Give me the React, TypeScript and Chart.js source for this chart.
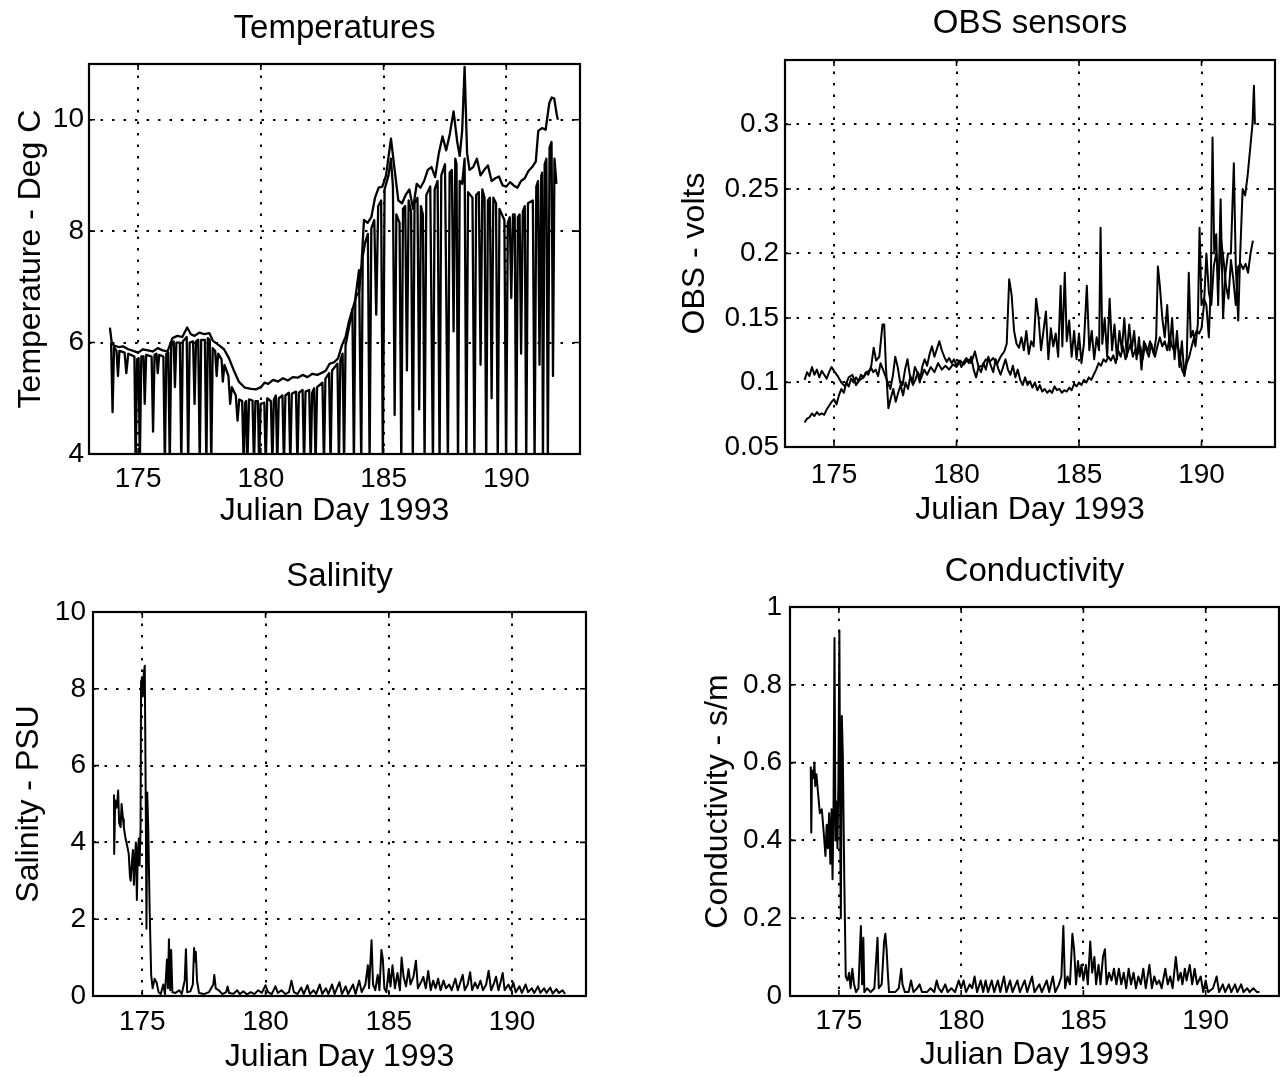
import React, { useEffect, useRef } from 'react';
import { Chart, registerables } from 'chart.js';
Chart.register(...registerables);

const FONT = '"Liberation Sans", Arial, Helvetica, sans-serif';

// ---------- shared axis data ----------
const xTicks = [175, 180, 185, 190];
const xTickLabels = ['175', '180', '185', '190'];
const xLabel = 'Julian Day 1993';

// ---------- Temperatures ----------
const tempYTicks = [4, 6, 8, 10];
const tempYLabels = ['4', '6', '8', '10'];
const tempUpperDays = [173.85,173.92,174.0,174.2,174.4,174.6,174.8,175.0,175.2,175.4,175.6,175.8,176.0,176.2,176.4,176.6,176.8,177.0,177.15,177.3,177.5,177.7,177.9,178.05,178.3,178.5,178.7,178.9,179.1,179.35,179.6,179.8,180.0,180.15,180.3,180.5,180.7,180.9,181.1,181.3,181.5,181.7,181.9,182.1,182.3,182.5,182.65,182.8,183.0,183.15,183.3,183.45,183.6,183.75,183.9,184.0,184.1,184.2,184.35,184.5,184.65,184.8,184.95,185.1,185.3,185.45,185.6,185.75,185.9,186.05,186.2,186.35,186.5,186.65,186.8,186.95,187.1,187.25,187.4,187.55,187.7,187.85,188.0,188.1,188.2,188.3,188.4,188.5,188.65,188.8,188.95,189.1,189.25,189.4,189.55,189.7,189.85,190.0,190.15,190.3,190.45,190.6,190.75,190.9,191.05,191.2,191.3,191.45,191.6,191.75,191.85,191.95,192.05,192.1];
const tempUpperVals = [6.27,6.02,5.95,5.92,5.93,5.88,5.85,5.82,5.88,5.86,5.84,5.9,5.86,5.84,6.08,6.12,6.1,6.27,6.15,6.12,6.18,6.15,6.17,6.03,5.95,5.88,5.72,5.5,5.3,5.19,5.17,5.16,5.2,5.28,5.26,5.33,5.3,5.36,5.32,5.38,5.37,5.42,5.38,5.44,5.42,5.46,5.5,5.62,5.65,5.72,5.95,6.1,6.4,6.62,6.85,6.9,7.4,8.2,8.15,8.25,8.6,8.78,8.8,9.0,9.66,9.1,8.55,8.5,8.65,8.75,8.4,8.85,8.78,8.9,9.1,9.15,8.97,9.4,9.7,9.45,9.75,10.15,9.6,9.35,9.8,10.95,9.4,9.1,9.15,9.3,9.0,9.1,9.18,8.9,8.95,8.98,8.82,8.8,8.88,8.82,8.78,8.9,8.95,9.08,9.15,9.25,9.8,9.85,9.82,10.3,10.4,10.38,10.1,10.0];
const tempLowerDays = [173.9,173.96,174.02,174.12,174.18,174.24,174.45,174.52,174.6,174.85,174.9,174.96,175.02,175.07,175.13,175.22,175.27,175.33,175.55,175.61,175.67,175.75,175.8,175.86,176.03,176.09,176.15,176.23,176.29,176.35,176.45,176.5,176.56,176.7,176.76,176.82,176.98,177.04,177.1,177.24,177.3,177.36,177.45,177.51,177.57,177.72,177.78,177.84,177.92,177.98,178.04,178.14,178.2,178.26,178.4,178.45,178.52,178.68,178.75,178.82,178.98,179.05,179.12,179.24,179.3,179.36,179.4,179.45,179.52,179.66,179.72,179.78,179.88,179.93,179.99,180.14,180.2,180.26,180.41,180.47,180.53,180.61,180.67,180.73,180.88,180.94,181.0,181.14,181.2,181.26,181.43,181.49,181.55,181.7,181.76,181.82,181.97,182.03,182.09,182.17,182.23,182.29,182.51,182.57,182.63,182.78,182.84,182.9,183.12,183.18,183.24,183.33,183.39,183.45,183.6,183.73,183.79,183.85,184.0,184.09,184.15,184.25,184.36,184.43,184.5,184.62,184.7,184.78,184.9,184.97,185.04,185.2,185.3,185.38,185.45,185.52,185.65,185.72,185.79,185.88,185.95,186.02,186.12,186.19,186.26,186.38,186.45,186.52,186.6,186.67,186.74,186.9,187.01,187.08,187.2,187.28,187.35,187.5,187.62,187.69,187.78,187.85,187.92,187.97,188.03,188.1,188.2,188.3,188.37,188.44,188.62,188.7,188.77,188.88,188.95,189.02,189.11,189.18,189.25,189.33,189.4,189.47,189.58,189.65,189.72,189.92,189.99,190.06,190.14,190.2,190.27,190.34,190.4,190.47,190.54,190.6,190.67,190.75,190.81,190.88,191.08,191.15,191.22,191.29,191.35,191.42,191.45,191.49,191.56,191.63,191.69,191.76,191.84,191.9,191.96,192.04,192.1];
const tempLowerVals = [6.0,4.75,5.92,5.85,5.4,5.85,5.82,5.45,5.8,5.75,3.8,5.7,5.72,3.8,5.75,5.75,4.9,5.78,5.75,4.4,5.78,5.8,5.45,5.78,5.75,3.8,5.8,5.82,3.8,5.95,6.02,5.2,6.0,6.0,3.8,6.02,6.1,3.8,6.0,6.02,4.9,6.02,6.05,3.8,6.05,6.05,3.8,6.08,6.05,3.8,5.9,5.85,5.4,5.8,5.7,5.3,5.6,5.4,4.9,5.2,5.05,4.6,4.98,4.95,3.8,4.92,4.95,3.8,4.98,4.96,3.8,4.95,4.95,3.8,4.9,4.92,3.8,5.0,4.95,3.8,4.98,5.05,3.8,5.0,5.05,3.8,5.05,5.1,3.8,5.08,5.12,3.8,5.1,5.15,3.8,5.12,5.15,3.8,5.1,5.18,3.8,5.2,5.28,3.8,5.35,5.45,3.8,5.5,5.62,3.8,5.68,5.8,3.8,5.95,6.3,6.6,3.8,6.8,7.3,3.8,7.55,7.8,7.95,3.8,8.05,8.2,6.5,8.45,8.55,3.8,8.75,9.0,9.3,8.8,4.7,8.3,8.15,3.8,8.4,8.45,5.5,8.55,8.35,3.8,8.5,8.6,4.8,8.45,8.3,3.8,8.65,8.8,3.8,8.75,8.9,3.8,9.0,9.2,3.8,9.05,9.1,6.2,9.3,9.2,3.8,8.9,8.85,9.3,3.8,8.7,8.6,3.8,8.65,8.7,5.6,8.75,8.6,3.8,8.55,8.6,5.0,8.6,8.5,3.8,8.4,8.2,3.8,8.15,8.25,6.8,8.3,8.3,3.8,8.25,8.3,5.8,8.35,8.45,3.8,8.5,8.55,3.8,8.8,8.9,5.6,9.0,9.05,3.8,9.2,9.3,3.8,9.5,9.6,5.4,9.3,8.85];

// ---------- OBS sensors ----------
const obsYTicks = [0.05, 0.1, 0.15, 0.2, 0.25, 0.3];
const obsYLabels = ['0.05', '0.1', '0.15', '0.2', '0.25', '0.3'];
const obsADays = [173.8,173.9,174.0,174.1,174.2,174.3,174.4,174.5,174.6,174.7,174.8,174.9,175.0,175.15,175.3,175.45,175.6,175.75,175.9,176.05,176.2,176.35,176.5,176.62,176.72,176.85,176.98,177.05,177.12,177.22,177.32,177.42,177.52,177.62,177.72,177.82,177.92,178.02,178.12,178.22,178.32,178.42,178.55,178.68,178.8,178.95,179.1,179.25,179.4,179.55,179.7,179.85,180.0,180.15,180.3,180.45,180.6,180.75,180.9,181.05,181.2,181.35,181.5,181.65,181.8,181.95,182.05,182.15,182.25,182.35,182.45,182.55,182.65,182.75,182.85,182.95,183.05,183.15,183.25,183.35,183.45,183.55,183.65,183.75,183.85,183.95,184.05,184.15,184.25,184.32,184.42,184.5,184.6,184.7,184.8,184.9,185.0,185.1,185.2,185.32,185.42,185.52,185.62,185.72,185.82,185.88,185.95,186.05,186.15,186.25,186.35,186.45,186.55,186.65,186.75,186.85,186.95,187.05,187.15,187.25,187.35,187.45,187.55,187.65,187.75,187.85,187.95,188.05,188.15,188.22,188.3,188.4,188.5,188.6,188.7,188.8,188.9,189.0,189.1,189.2,189.3,189.4,189.48,189.56,189.65,189.75,189.85,189.92,190.0,190.1,190.2,190.3,190.38,190.45,190.52,190.6,190.68,190.78,190.88,190.98,191.08,191.2,191.32,191.4,191.5,191.58,191.68,191.78,191.88,191.98,192.08,192.14,192.18];
const obsAVals = [0.102,0.108,0.105,0.112,0.106,0.11,0.104,0.109,0.106,0.103,0.108,0.112,0.109,0.105,0.1,0.097,0.104,0.106,0.098,0.102,0.104,0.108,0.11,0.127,0.117,0.12,0.145,0.145,0.112,0.08,0.088,0.095,0.085,0.092,0.098,0.09,0.1,0.095,0.105,0.098,0.102,0.108,0.103,0.11,0.106,0.112,0.108,0.115,0.11,0.113,0.11,0.114,0.112,0.117,0.114,0.118,0.115,0.124,0.112,0.113,0.118,0.116,0.119,0.114,0.12,0.124,0.13,0.18,0.168,0.14,0.13,0.127,0.135,0.125,0.14,0.122,0.132,0.128,0.165,0.15,0.125,0.14,0.155,0.118,0.142,0.128,0.138,0.12,0.175,0.128,0.185,0.132,0.148,0.12,0.14,0.118,0.138,0.115,0.13,0.175,0.125,0.14,0.118,0.135,0.125,0.22,0.13,0.15,0.12,0.165,0.125,0.145,0.118,0.14,0.125,0.15,0.12,0.145,0.125,0.14,0.118,0.135,0.11,0.132,0.125,0.12,0.13,0.122,0.135,0.19,0.175,0.15,0.135,0.16,0.125,0.15,0.118,0.14,0.112,0.132,0.105,0.12,0.185,0.135,0.14,0.128,0.145,0.22,0.16,0.165,0.16,0.135,0.175,0.29,0.2,0.215,0.16,0.242,0.15,0.185,0.2,0.2,0.27,0.19,0.148,0.2,0.25,0.245,0.26,0.28,0.3,0.33,0.3];
const obsBDays = [173.8,173.9,174.0,174.1,174.2,174.3,174.4,174.5,174.6,174.7,174.8,174.9,175.0,175.1,175.2,175.3,175.4,175.5,175.6,175.7,175.8,175.9,176.0,176.1,176.2,176.3,176.4,176.5,176.6,176.7,176.8,176.9,177.0,177.1,177.2,177.3,177.4,177.5,177.6,177.7,177.8,177.9,178.0,178.1,178.2,178.3,178.4,178.5,178.6,178.7,178.8,178.9,179.0,179.1,179.2,179.3,179.4,179.5,179.6,179.7,179.8,179.9,180.0,180.1,180.2,180.3,180.4,180.5,180.6,180.7,180.8,180.9,181.0,181.1,181.2,181.3,181.4,181.5,181.6,181.7,181.8,181.9,182.0,182.1,182.2,182.3,182.4,182.5,182.6,182.7,182.8,182.9,183.0,183.1,183.2,183.3,183.4,183.5,183.6,183.7,183.8,183.9,184.0,184.1,184.2,184.3,184.4,184.5,184.6,184.7,184.8,184.9,185.0,185.1,185.2,185.3,185.4,185.5,185.6,185.7,185.8,185.9,186.0,186.1,186.2,186.3,186.4,186.5,186.6,186.7,186.8,186.9,187.0,187.1,187.2,187.3,187.4,187.5,187.6,187.7,187.8,187.9,188.0,188.1,188.2,188.3,188.4,188.5,188.6,188.7,188.8,188.9,189.0,189.1,189.2,189.3,189.4,189.5,189.6,189.7,189.8,189.9,190.0,190.1,190.2,190.3,190.4,190.5,190.6,190.7,190.8,190.9,191.0,191.1,191.2,191.3,191.4,191.5,191.6,191.7,191.8,191.9,192.0,192.1];
const obsBVals = [0.069,0.072,0.073,0.076,0.074,0.077,0.075,0.076,0.075,0.079,0.082,0.085,0.087,0.083,0.09,0.095,0.092,0.1,0.097,0.103,0.1,0.104,0.101,0.106,0.104,0.108,0.106,0.112,0.108,0.11,0.105,0.115,0.11,0.105,0.1,0.095,0.105,0.12,0.112,0.1,0.098,0.11,0.118,0.105,0.1,0.112,0.108,0.1,0.112,0.118,0.113,0.122,0.128,0.12,0.126,0.132,0.125,0.12,0.116,0.119,0.115,0.118,0.113,0.117,0.112,0.116,0.119,0.115,0.12,0.11,0.104,0.112,0.108,0.115,0.11,0.12,0.113,0.108,0.118,0.111,0.106,0.112,0.118,0.11,0.106,0.113,0.104,0.11,0.102,0.098,0.104,0.098,0.101,0.096,0.1,0.094,0.098,0.093,0.095,0.092,0.094,0.092,0.097,0.094,0.095,0.092,0.094,0.093,0.096,0.094,0.099,0.097,0.1,0.098,0.102,0.1,0.104,0.102,0.106,0.11,0.115,0.113,0.118,0.116,0.12,0.117,0.121,0.115,0.125,0.12,0.128,0.118,0.124,0.13,0.12,0.126,0.122,0.128,0.118,0.13,0.124,0.132,0.126,0.12,0.128,0.135,0.128,0.132,0.125,0.135,0.128,0.124,0.132,0.122,0.11,0.106,0.115,0.12,0.128,0.135,0.14,0.138,0.142,0.16,0.2,0.17,0.16,0.19,0.2,0.18,0.21,0.195,0.175,0.165,0.195,0.18,0.16,0.19,0.192,0.188,0.192,0.185,0.2,0.21];

// ---------- Salinity ----------
const salYTicks = [0, 2, 4, 6, 8, 10];
const salYLabels = ['0', '2', '4', '6', '8', '10'];
const salDays = [173.85,173.86,173.9,173.95,173.98,174.02,174.06,174.12,174.16,174.22,174.25,174.32,174.39,174.45,174.5,174.53,174.58,174.62,174.66,174.7,174.74,174.78,174.82,174.86,174.89,174.93,174.95,174.98,175.02,175.06,175.1,175.14,175.17,175.2,175.24,175.3,175.36,175.42,175.5,175.58,175.66,175.75,175.85,175.92,176.0,176.04,176.08,176.13,176.17,176.22,176.35,176.5,176.6,176.72,176.77,176.82,176.95,177.05,177.1,177.14,177.17,177.22,177.3,177.5,177.7,177.88,177.92,177.98,178.1,178.25,178.4,178.46,178.52,178.7,178.85,178.95,179.1,179.25,179.4,179.55,179.7,179.85,180.0,180.1,180.25,180.4,180.5,180.65,180.8,180.95,181.05,181.15,181.3,181.45,181.55,181.7,181.8,181.95,182.05,182.2,182.3,182.45,182.55,182.7,182.8,183.0,183.1,183.25,183.35,183.55,183.65,183.8,183.9,184.05,184.15,184.2,184.3,184.36,184.45,184.55,184.62,184.7,184.76,184.82,184.9,185.0,185.07,185.15,185.25,185.35,185.45,185.52,185.6,185.7,185.8,185.88,186.0,186.1,186.18,186.3,186.4,186.5,186.6,186.7,186.8,186.9,187.0,187.1,187.22,187.32,187.45,187.55,187.7,187.8,187.9,188.0,188.08,188.2,188.3,188.38,188.5,188.6,188.72,188.82,188.95,189.05,189.15,189.25,189.35,189.45,189.55,189.62,189.7,189.85,189.95,190.05,190.15,190.3,190.4,190.55,190.65,190.8,190.9,191.05,191.15,191.3,191.4,191.55,191.65,191.8,191.9,192.05,192.15];
const salVals = [5.25,3.7,5.1,4.9,5.0,5.35,4.5,4.4,5.0,4.6,4.4,4.1,3.9,3.7,3.1,3.0,3.5,3.8,2.9,3.6,4.0,2.5,3.8,4.1,3.4,4.4,8.2,8.3,7.8,8.4,8.6,5.0,1.75,5.3,4.4,2.2,0.55,0.2,0.45,0.35,0.1,0.05,0.3,0.05,0.95,0.2,1.48,0.15,1.2,0.1,0.08,0.15,0.05,0.4,1.22,0.1,0.12,0.3,1.25,0.9,1.15,0.4,0.08,0.05,0.1,0.3,0.55,0.2,0.15,0.05,0.1,0.25,0.08,0.06,0.15,0.05,0.12,0.04,0.1,0.05,0.15,0.08,0.28,0.1,0.05,0.25,0.08,0.15,0.05,0.1,0.4,0.1,0.05,0.22,0.05,0.28,0.05,0.15,0.05,0.3,0.05,0.2,0.05,0.3,0.05,0.36,0.05,0.25,0.05,0.3,0.05,0.4,0.1,0.3,0.8,0.2,1.45,0.3,0.15,0.55,0.15,1.2,0.95,0.2,0.1,0.7,0.25,0.8,0.2,0.6,0.15,1.0,0.5,0.25,0.7,0.3,0.5,0.92,0.2,0.35,0.5,0.2,0.65,0.15,0.4,0.2,0.45,0.15,0.4,0.2,0.3,0.15,0.45,0.15,0.35,0.55,0.15,0.3,0.62,0.15,0.35,0.2,0.4,0.15,0.3,0.66,0.15,0.3,0.5,0.15,0.4,0.6,0.15,0.3,0.15,0.35,0.1,0.25,0.08,0.3,0.1,0.2,0.08,0.25,0.08,0.2,0.08,0.22,0.06,0.18,0.08,0.15,0.05];

// ---------- Conductivity ----------
const condYTicks = [0, 0.2, 0.4, 0.6, 0.8, 1];
const condYLabels = ['0', '0.2', '0.4', '0.6', '0.8', '1'];
const condDays = [173.85,173.87,173.9,173.95,174.0,174.03,174.08,174.15,174.22,174.3,174.38,174.45,174.5,174.55,174.6,174.65,174.7,174.74,174.78,174.82,174.86,174.9,174.94,174.98,175.02,175.06,175.08,175.12,175.16,175.22,175.28,175.35,175.42,175.48,175.55,175.62,175.7,175.8,175.86,175.9,175.95,176.0,176.04,176.15,176.3,176.45,176.58,176.63,176.75,176.85,176.9,176.95,177.0,177.05,177.3,177.45,177.55,177.6,177.7,177.85,177.95,178.05,178.2,178.3,178.4,178.6,178.75,178.9,179.0,179.08,179.2,179.35,179.45,179.6,179.75,179.9,180.0,180.1,180.2,180.35,180.45,180.55,180.65,180.8,180.9,181.0,181.1,181.25,181.35,181.5,181.6,181.75,181.85,182.0,182.1,182.3,182.4,182.6,182.7,182.9,183.0,183.2,183.3,183.5,183.6,183.75,183.85,184.0,184.1,184.18,184.25,184.35,184.45,184.55,184.62,184.7,184.78,184.85,184.92,185.0,185.1,185.18,185.28,185.36,185.45,185.52,185.62,185.7,185.8,185.88,185.95,186.05,186.15,186.25,186.35,186.45,186.55,186.65,186.75,186.85,186.95,187.05,187.15,187.25,187.35,187.45,187.55,187.7,187.8,187.9,188.0,188.1,188.2,188.35,188.45,188.55,188.65,188.78,188.88,188.98,189.05,189.15,189.22,189.35,189.45,189.55,189.65,189.8,189.9,190.0,190.1,190.3,190.45,190.55,190.7,190.8,190.95,191.05,191.2,191.3,191.45,191.55,191.7,191.8,191.95,192.1,192.2];
const condVals = [0.59,0.42,0.58,0.56,0.6,0.54,0.57,0.52,0.47,0.48,0.42,0.36,0.44,0.38,0.47,0.34,0.48,0.3,0.48,0.92,0.4,0.5,0.38,0.55,0.94,0.35,0.2,0.72,0.62,0.3,0.05,0.04,0.06,0.02,0.07,0.03,0.01,0.02,0.12,0.18,0.03,0.15,0.01,0.02,0.01,0.02,0.15,0.02,0.03,0.14,0.16,0.12,0.06,0.01,0.01,0.02,0.07,0.03,0.01,0.01,0.04,0.01,0.02,0.03,0.01,0.01,0.02,0.01,0.04,0.02,0.01,0.03,0.01,0.02,0.01,0.04,0.02,0.04,0.01,0.03,0.02,0.05,0.01,0.04,0.01,0.04,0.01,0.04,0.01,0.04,0.01,0.05,0.01,0.04,0.01,0.04,0.01,0.04,0.01,0.05,0.01,0.03,0.01,0.04,0.01,0.05,0.01,0.03,0.05,0.18,0.02,0.05,0.03,0.16,0.12,0.03,0.09,0.05,0.08,0.04,0.08,0.03,0.14,0.06,0.1,0.03,0.08,0.03,0.1,0.12,0.03,0.06,0.04,0.07,0.03,0.07,0.03,0.06,0.02,0.07,0.03,0.06,0.02,0.05,0.03,0.07,0.02,0.08,0.02,0.05,0.03,0.04,0.02,0.07,0.03,0.05,0.02,0.1,0.04,0.06,0.03,0.07,0.04,0.08,0.03,0.07,0.03,0.05,0.01,0.04,0.01,0.02,0.05,0.01,0.03,0.01,0.03,0.01,0.03,0.01,0.03,0.01,0.02,0.01,0.02,0.01,0.01];

// ---------- panel definitions ----------
type Series = { x: number[]; y: number[] };
type PanelDef = {
  left: number; top: number; w: number; h: number;
  title: string; yTitle: string;
  yMin: number; yMax: number; yTicks: number[]; yLabels: string[];
  series: Series[]; lw: number;
  yW: number; padRight: number; xH: number;
  titleTop: number; titleBottom: number;
  xTickPad: number; xTitlePad: number; yTickPad: number; yTitlePad: number;
};

const panels: PanelDef[] = [
  {
    left: 0, top: 0, w: 640, h: 540, title: 'Temperatures', yTitle: 'Temperature - Deg C',
    yMin: 4, yMax: 11, yTicks: tempYTicks, yLabels: tempYLabels,
    series: [{ x: tempUpperDays, y: tempUpperVals }, { x: tempLowerDays, y: tempLowerVals }], lw: 2.3,
    yW: 89, padRight: 60, xH: 86, titleTop: 9.2, titleBottom: 15.2,
    xTickPad: 8, xTitlePad: 9.8, yTickPad: 5, yTitlePad: 11.8,
  },
  {
    left: 640, top: 0, w: 640, h: 540, title: 'OBS sensors', yTitle: 'OBS - volts',
    yMin: 0.05, yMax: 0.35, yTicks: obsYTicks, yLabels: obsYLabels,
    series: [{ x: obsADays, y: obsAVals }, { x: obsBDays, y: obsBVals }], lw: 2,
    yW: 145, padRight: 5, xH: 93, titleTop: 4.2, titleBottom: 16.2,
    xTickPad: 11, xTitlePad: 10.8, yTickPad: 6, yTitlePad: 35.8,
  },
  {
    left: 0, top: 540, w: 640, h: 537, title: 'Salinity', yTitle: 'Salinity - PSU',
    yMin: 0, yMax: 10, yTicks: salYTicks, yLabels: salYLabels,
    series: [{ x: salDays, y: salVals }], lw: 2,
    yW: 93, padRight: 54, xH: 81, titleTop: 17.2, titleBottom: 15.2,
    xTickPad: 9, xTitlePad: 0.8, yTickPad: 7, yTitlePad: 9.8,
  },
  {
    left: 640, top: 540, w: 640, h: 537, title: 'Conductivity', yTitle: 'Conductivity - s/m',
    yMin: 0, yMax: 1, yTicks: condYTicks, yLabels: condYLabels,
    series: [{ x: condDays, y: condVals }], lw: 2,
    yW: 150, padRight: 1, xH: 81, titleTop: 12.2, titleBottom: 15.2,
    xTickPad: 8, xTitlePad: 2.8, yTickPad: 8, yTitlePad: 58.8,
  },
];

const framePlugin = {
  id: 'matlabFrame',
  afterDraw(chart: any) {
    const { ctx, chartArea: a, scales } = chart;
    const tl = 6;
    ctx.save();
    ctx.strokeStyle = '#000';
    ctx.lineWidth = 1.6;
    ctx.beginPath();
    scales.x.ticks.forEach((t: any) => {
      const px = scales.x.getPixelForValue(t.value);
      ctx.moveTo(px, a.bottom); ctx.lineTo(px, a.bottom - tl);
      ctx.moveTo(px, a.top); ctx.lineTo(px, a.top + tl);
    });
    scales.y.ticks.forEach((t: any) => {
      const py = scales.y.getPixelForValue(t.value);
      ctx.moveTo(a.left, py); ctx.lineTo(a.left + tl, py);
      ctx.moveTo(a.right, py); ctx.lineTo(a.right - tl, py);
    });
    ctx.stroke();
    ctx.lineWidth = 2.2;
    ctx.strokeRect(a.left, a.top, a.right - a.left, a.bottom - a.top);
    ctx.restore();
  },
};

function buildConfig(p: PanelDef): any {
  const tickFont = { family: FONT, size: 28 };
  const axisTitleFont = { family: FONT, size: 32 };
  return {
    type: 'line',
    data: {
      datasets: p.series.map((s) => ({
        data: s.x.map((x, i) => ({ x, y: s.y[i] })),
        borderColor: '#000',
        borderWidth: p.lw,
        borderJoinStyle: 'round',
        pointRadius: 0,
        fill: false,
        tension: 0,
      })),
    },
    options: {
      responsive: false,
      animation: false,
      devicePixelRatio: 1,
      layout: { padding: { left: 0, top: 0, right: p.padRight, bottom: 0 } },
      plugins: {
        legend: { display: false },
        tooltip: { enabled: false },
        title: {
          display: true, text: p.title, fullSize: false, color: '#000',
          font: { family: FONT, size: 33, weight: 'normal' },
          padding: { top: p.titleTop, bottom: p.titleBottom },
        },
      },
      scales: {
        x: {
          type: 'linear', min: 173, max: 193,
          afterBuildTicks: (s: any) => { s.ticks = xTicks.map((v) => ({ value: v })); },
          afterFit: (s: any) => { s.height = p.xH; },
          ticks: {
            callback: (_v: any, i: number) => xTickLabels[i],
            font: tickFont, color: '#000', padding: p.xTickPad, maxRotation: 0, autoSkip: false,
          },
          grid: { color: '#000', lineWidth: 2, drawTicks: false },
          border: { display: false, dash: [2.5, 9] },
          title: { display: true, text: xLabel, color: '#000', font: axisTitleFont, padding: { top: 0, bottom: p.xTitlePad } },
        },
        y: {
          type: 'linear', min: p.yMin, max: p.yMax,
          afterBuildTicks: (s: any) => { s.ticks = p.yTicks.map((v) => ({ value: v })); },
          afterFit: (s: any) => { s.width = p.yW; },
          ticks: {
            callback: (_v: any, i: number) => p.yLabels[i],
            font: tickFont, color: '#000', padding: p.yTickPad, autoSkip: false,
          },
          grid: { color: '#000', lineWidth: 2, drawTicks: false },
          border: { display: false, dash: [2.5, 9] },
          title: { display: true, text: p.yTitle, color: '#000', font: axisTitleFont, padding: { top: p.yTitlePad, bottom: 0 } },
        },
      },
    },
    plugins: [framePlugin],
  };
}

function Panel({ p }: { p: PanelDef }) {
  const ref = useRef<HTMLCanvasElement>(null);
  useEffect(() => {
    if (!ref.current) return;
    const chart = new Chart(ref.current, buildConfig(p));
    return () => chart.destroy();
  }, [p]);
  return (
    <canvas
      ref={ref}
      width={p.w}
      height={p.h}
      style={{ position: 'absolute', left: p.left, top: p.top, width: p.w, height: p.h }}
    />
  );
}

export default function App() {
  return (
    <div style={{ position: 'absolute', left: 0, top: 0, width: 1280, height: 1077, background: '#fff', overflow: 'hidden' }}>
      {panels.map((p, i) => (
        <Panel key={i} p={p} />
      ))}
    </div>
  );
}
